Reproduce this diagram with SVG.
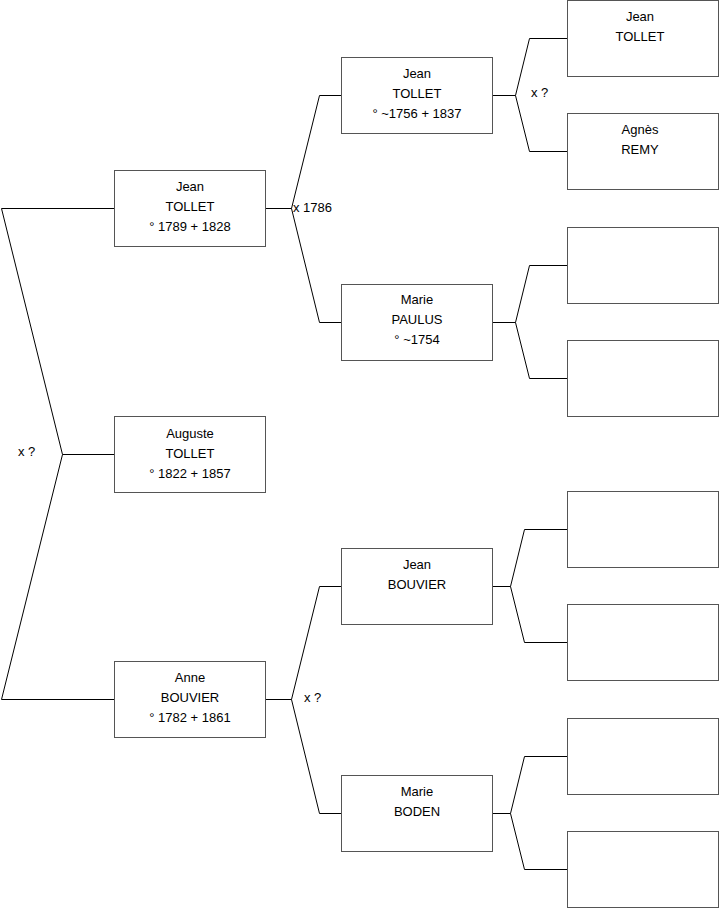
<svg xmlns="http://www.w3.org/2000/svg" width="719" height="908" viewBox="0 0 719 908">
<style>
.box{fill:#fff;stroke:#555;stroke-width:1}
.t{font-family:"Liberation Sans",Arial,sans-serif;font-size:13px;fill:#000;text-anchor:middle}
.l{font-family:"Liberation Sans",Arial,sans-serif;font-size:13px;fill:#000}
.c{fill:none;stroke:#000;stroke-width:1}
</style>
<rect width="719" height="908" fill="#fff"/>
<g id="connectors">
<path class="c" d="M114.5,208.5H1.5L62.5,454.5L1.5,699.5H114.5M62.5,454.5H114.5"/>
<path class="c" d="M265.5,208.5H291.5M341.5,95.5H319.5L291.5,208.5L319.5,322.5H341.5"/>
<path class="c" d="M265.5,699.5H291.5M341.5,586.5H319.5L291.5,699.5L319.5,813.5H341.5"/>
<path class="c" d="M492.5,95.5H515.5M567.5,38.5H529.5L515.5,95.5L529.5,151.5H567.5"/>
<path class="c" d="M492.5,322.5H515.5M567.5,265.5H529.5L515.5,322.5L529.5,378.5H567.5"/>
<path class="c" d="M492.5,586.5H510.5M567.5,529.5H524.5L510.5,586.5L524.5,642.5H567.5"/>
<path class="c" d="M492.5,813.5H510.5M567.5,756.5H524.5L510.5,813.5L524.5,869.5H567.5"/>
<text class="l" x="18" y="456">x ?</text>
<text class="l" x="293" y="212">x 1786</text>
<text class="l" x="304" y="702">x ?</text>
<text class="l" x="531" y="97">x ?</text>
</g>
<g id="n1"><rect class="box" x="114.5" y="170.5" width="151" height="76"/><text class="t" x="190" y="191">Jean</text><text class="t" x="190" y="211">TOLLET</text><text class="t" x="190" y="231">° 1789 + 1828</text></g>
<g id="n2"><rect class="box" x="114.5" y="416.5" width="151" height="76"/><text class="t" x="190" y="438">Auguste</text><text class="t" x="190" y="458">TOLLET</text><text class="t" x="190" y="478">° 1822 + 1857</text></g>
<g id="n3"><rect class="box" x="114.5" y="661.5" width="151" height="76"/><text class="t" x="190" y="682">Anne</text><text class="t" x="190" y="702">BOUVIER</text><text class="t" x="190" y="722">° 1782 + 1861</text></g>
<g id="n4"><rect class="box" x="341.5" y="57.5" width="151" height="76"/><text class="t" x="417" y="78">Jean</text><text class="t" x="417" y="98">TOLLET</text><text class="t" x="417" y="118">° ~1756 + 1837</text></g>
<g id="n5"><rect class="box" x="341.5" y="284.5" width="151" height="76"/><text class="t" x="417" y="304">Marie</text><text class="t" x="417" y="324">PAULUS</text><text class="t" x="417" y="344">° ~1754</text></g>
<g id="n6"><rect class="box" x="341.5" y="548.5" width="151" height="76"/><text class="t" x="417" y="569">Jean</text><text class="t" x="417" y="589">BOUVIER</text></g>
<g id="n7"><rect class="box" x="341.5" y="775.5" width="151" height="76"/><text class="t" x="417" y="796">Marie</text><text class="t" x="417" y="816">BODEN</text></g>
<g id="n8"><rect class="box" x="567.5" y="0.5" width="151" height="76"/><text class="t" x="640" y="21">Jean</text><text class="t" x="640" y="41">TOLLET</text></g>
<g id="n9"><rect class="box" x="567.5" y="113.5" width="151" height="76"/><text class="t" x="640" y="134">Agnès</text><text class="t" x="640" y="154">REMY</text></g>
<g id="n10"><rect class="box" x="567.5" y="227.5" width="151" height="76"/></g>
<g id="n11"><rect class="box" x="567.5" y="340.5" width="151" height="76"/></g>
<g id="n12"><rect class="box" x="567.5" y="491.5" width="151" height="76"/></g>
<g id="n13"><rect class="box" x="567.5" y="604.5" width="151" height="76"/></g>
<g id="n14"><rect class="box" x="567.5" y="718.5" width="151" height="76"/></g>
<g id="n15"><rect class="box" x="567.5" y="831.5" width="151" height="76"/></g>
</svg>
